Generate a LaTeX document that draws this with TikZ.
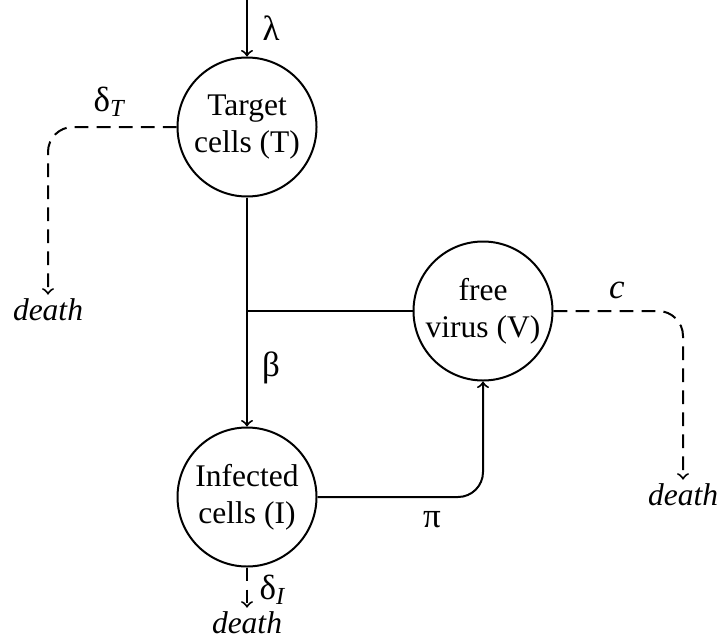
\documentclass[tikz,border=0pt]{standalone}
\usepackage{fontspec}
\setmainfont{Liberation Serif}
\usetikzlibrary{arrows}

\begin{document}
\begin{tikzpicture}[x=0.4pt, y=-0.4pt, line width=0.8pt,
    font=\fontsize{12.6}{14.8}\selectfont,
    compartment/.style={circle, draw, minimum size=55.6pt, inner sep=0pt, align=center},
    loss/.style={->, dash pattern=on 5.5pt off 3.3pt, rounded corners=10pt},
    rate/.style={font=\fontsize{14}{16}\selectfont, inner sep=1pt},
    fate/.style={font=\fontsize{12.6}{14.8}\selectfont\itshape, anchor=base, inner sep=1pt}]
    \useasboundingbox (0,0) rectangle (718,639);

    % Compartments
    \node[compartment] (target) at (247,127) {Target\\cells (T)};
    \node[compartment] (virus) at (483,311) {free\\virus (V)};
    \node[compartment] (infected) at (247,497) {Infected\\cells (I)};

    % Sinks
    \node[fate] (deathT) at (48,320) {death};
    \node[fate] (deathV) at (683,505) {death};
    \node[fate] (deathI) at (247,633) {death};

    % Inflow and infection
    \coordinate (source) at (247,0);
    \coordinate (junction) at (247,311);
    \draw[->] (source) -- (target.north);
    \draw[->] (target.south) -- (junction) -- (infected.north);
    \draw (virus.west) -- (junction);

    % Production of virus
    \draw[->, rounded corners=10pt] (infected.east) -| (virus.south);

    % Loss terms
    \draw[loss] (target.west) -| (deathT.north);
    \draw[loss] (virus.east) -| (deathV.north);
    \draw[loss] (infected.south) -- (deathI.north);

    % Rate labels
    \node[rate] (lambda) at (271,28) {λ};
    \node[rate] (beta) at (271,368) {β};
    \node[rate] (pi) at (432,520) {π};
    \node[rate] (deltaT) at (110,102) {δ\textsubscript{\textit{T}}};
    \node[rate] (deltaI) at (273,590) {δ\textsubscript{\textit{I}}};
    \node[rate] (clear) at (617,290) {\textit{c}};

\end{tikzpicture}
\end{document}
